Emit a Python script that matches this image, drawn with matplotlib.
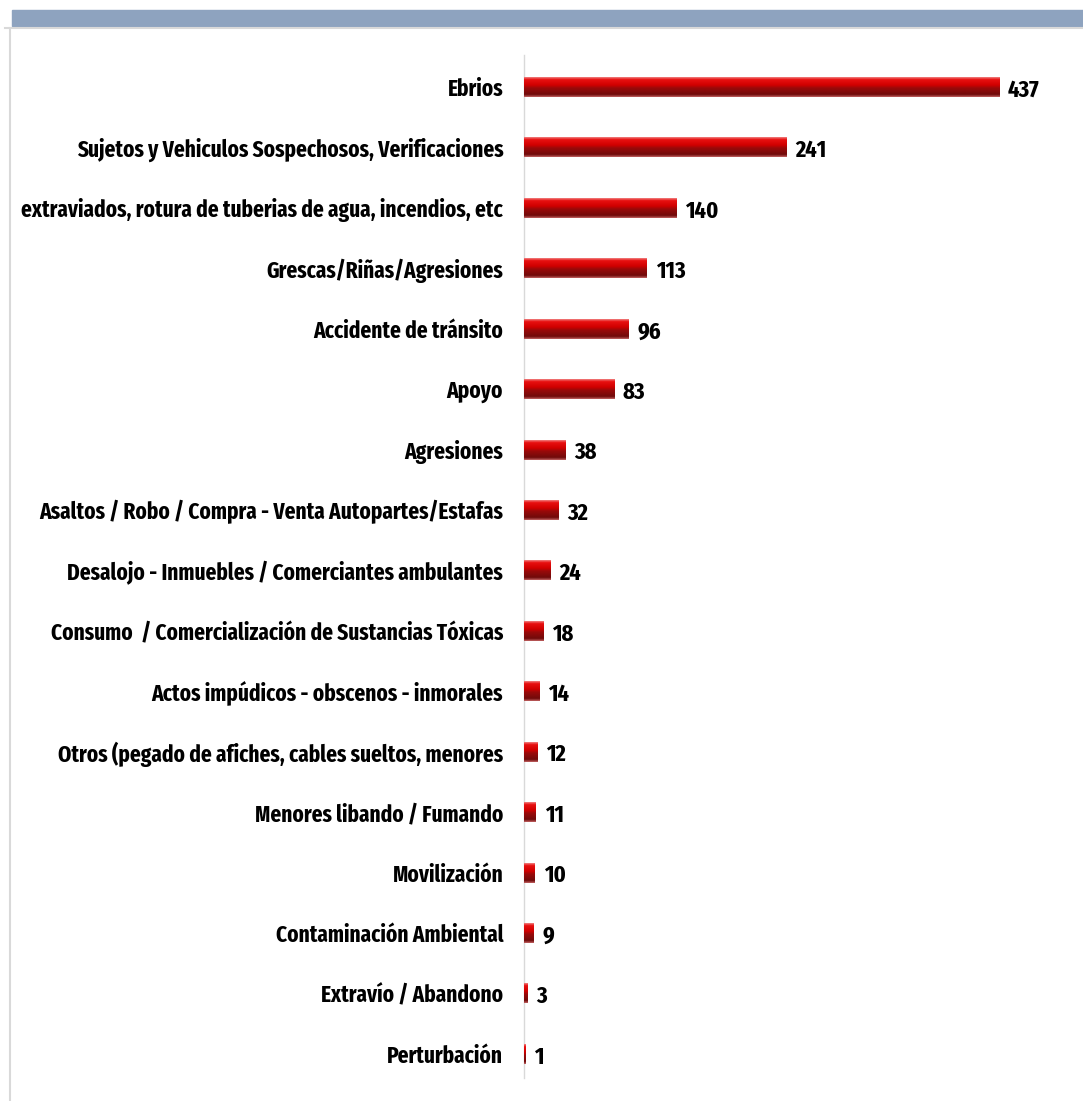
import numpy as np
import matplotlib
matplotlib.use("Agg")
import matplotlib.pyplot as plt
from matplotlib.patches import Rectangle

categorias = [
    "Ebrios",
    "Sujetos y Vehiculos Sospechosos, Verificaciones",
    "extraviados, rotura de tuberias de agua, incendios, etc",
    "Grescas/Riñas/Agresiones",
    "Accidente de tránsito",
    "Apoyo",
    "Agresiones",
    "Asaltos / Robo / Compra - Venta Autopartes/Estafas",
    "Desalojo - Inmuebles / Comerciantes ambulantes",
    "Consumo  / Comercialización de Sustancias Tóxicas",
    "Actos impúdicos - obscenos - inmorales",
    "Otros (pegado de afiches, cables sueltos, menores",
    "Menores libando / Fumando",
    "Movilización",
    "Contaminación Ambiental",
    "Extravío / Abandono",
    "Perturbación",
]
valores = [437, 241, 140, 113, 96, 83, 38, 32, 24, 18, 14, 12, 11, 10, 9, 3, 1]

fuente = ["Fira Sans Extra Condensed", "Barlow Condensed", "DejaVu Sans"]

fig = plt.figure(figsize=(10.83, 11.01), dpi=100)

# marco de la diapositiva
fig.patches.append(Rectangle((12 / 1083, 1 - 26 / 1101), 1 - 12 / 1083, 16 / 1101,
                             transform=fig.transFigure, color="#8ea3bf", zorder=0))
fig.add_artist(plt.Line2D([5 / 1083, 1], [1 - 27.5 / 1101, 1 - 27.5 / 1101],
                          transform=fig.transFigure, color="#d9d9d9", lw=1.5))
fig.add_artist(plt.Line2D([10 / 1083, 10 / 1083], [0, 1 - 27.5 / 1101],
                          transform=fig.transFigure, color="#d9d9d9", lw=1.5))

ax = fig.add_axes([524 / 1083, 23 / 1101, 559 / 1083, 1023 / 1101])
y = np.arange(len(categorias))
barras = ax.barh(y, valores, height=0.33, color="#b00000", zorder=2)

# efecto cilindrico
grad = np.linspace(0, 1, 64).reshape(-1, 1)
cmap = matplotlib.colors.LinearSegmentedColormap.from_list(
    "rojo", [(0, "#f08080"), (0.12, "#e81010"), (0.4, "#d00000"),
             (0.55, "#9a0a0a"), (0.88, "#700a0a"), (1, "#c06060")])
for b in barras:
    x0, y0, w, h = b.get_x(), b.get_y(), b.get_width(), b.get_height()
    im = ax.imshow(grad, cmap=cmap, aspect="auto", extent=[x0, x0 + w, y0 + h, y0],
                   zorder=3, interpolation="bilinear")
    im.set_clip_path(b)

ax.set_xlim(0, 514)
ax.set_ylim(16.4, -0.53)
ax.set_yticks(y)
etiquetas = ax.set_yticklabels(categorias, fontsize=16, fontweight="bold", family=fuente)
ax.tick_params(axis="y", length=0, pad=15)
ax.set_xticks([])
for s in ["top", "right", "bottom"]:
    ax.spines[s].set_visible(False)
ax.spines["left"].set_color("#d9d9d9")
ax.spines["left"].set_linewidth(1)

# ajustar el tamaño para que la etiqueta mas larga ocupe ~483 px
r = fig.canvas.get_renderer()
ancho = max(t.get_window_extent(r).width for t in etiquetas)
tam = 16 * 483 / ancho
for t in etiquetas:
    t.set_fontsize(tam)

for yi, v in zip(y, valores):
    ax.text(v + 8, yi + 0.05, str(v), va="center", ha="left", fontsize=tam * 1.05,
            fontweight="bold", family=fuente, color="black")

fig.savefig("out.png", dpi=100)
